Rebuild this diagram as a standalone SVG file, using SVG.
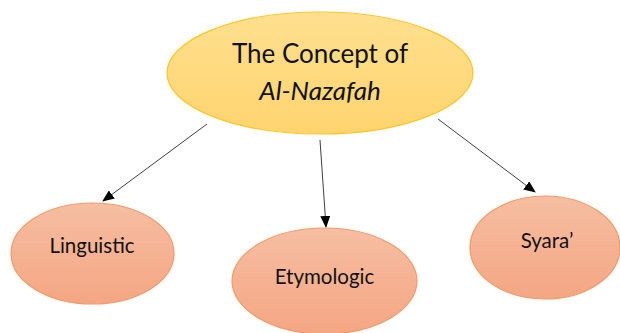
<svg xmlns="http://www.w3.org/2000/svg" width="620" height="333" viewBox="0 0 620 333">
<defs>
<linearGradient id="gy" x1="0" y1="0" x2="0" y2="1">
<stop offset="0" stop-color="#FFE08F"/>
<stop offset="1" stop-color="#FFD46E"/>
</linearGradient>
<linearGradient id="go" x1="0" y1="0" x2="0" y2="1">
<stop offset="0" stop-color="#F6BEA2"/>
<stop offset="1" stop-color="#F4A683"/>
</linearGradient>
<marker id="ah" markerWidth="12" markerHeight="10" refX="11" refY="5" orient="auto" markerUnits="userSpaceOnUse">
<path d="M0,0 L12,5 L0,10 Z" fill="#000"/>
</marker>
<style>
.t{font-family:Lato,"Open Sans","Liberation Sans",sans-serif;fill:#111;text-anchor:middle}
.o{fill:url(#go);stroke:#F09A66;stroke-width:1.2}
.c{stroke:#404040;stroke-width:1;fill:none;marker-end:url(#ah)}
</style>
</defs>
<rect width="620" height="333" fill="#fff"/>
<g id="connectors">
<line class="c" x1="207" y1="124" x2="103" y2="201"/>
<line class="c" x1="320" y1="140" x2="326" y2="227"/>
<line class="c" x1="438" y1="119" x2="535" y2="192"/>
</g>
<g id="concept">
<ellipse cx="320" cy="73" rx="153" ry="61" fill="url(#gy)" stroke="#FFC527" stroke-width="1.2"/>
<text class="t" x="320" y="63" font-size="26">The Concept of</text>
<text class="t" x="320" y="100" font-size="26" font-style="italic">Al-Nazafah</text>
</g>
<g id="linguistic">
<ellipse class="o" cx="92.5" cy="253.5" rx="81.5" ry="50.5"/>
<text class="t" x="92" y="253" font-size="20.5">Linguistic</text>
</g>
<g id="etymologic">
<ellipse class="o" cx="324.5" cy="281" rx="92.5" ry="53"/>
<text class="t" x="324.5" y="284" font-size="20.5">Etymologic</text>
</g>
<g id="syara">
<ellipse class="o" cx="545" cy="247.5" rx="75" ry="51.5"/>
<text class="t" x="547" y="248" font-size="20.5">Syara’</text>
</g>
</svg>
